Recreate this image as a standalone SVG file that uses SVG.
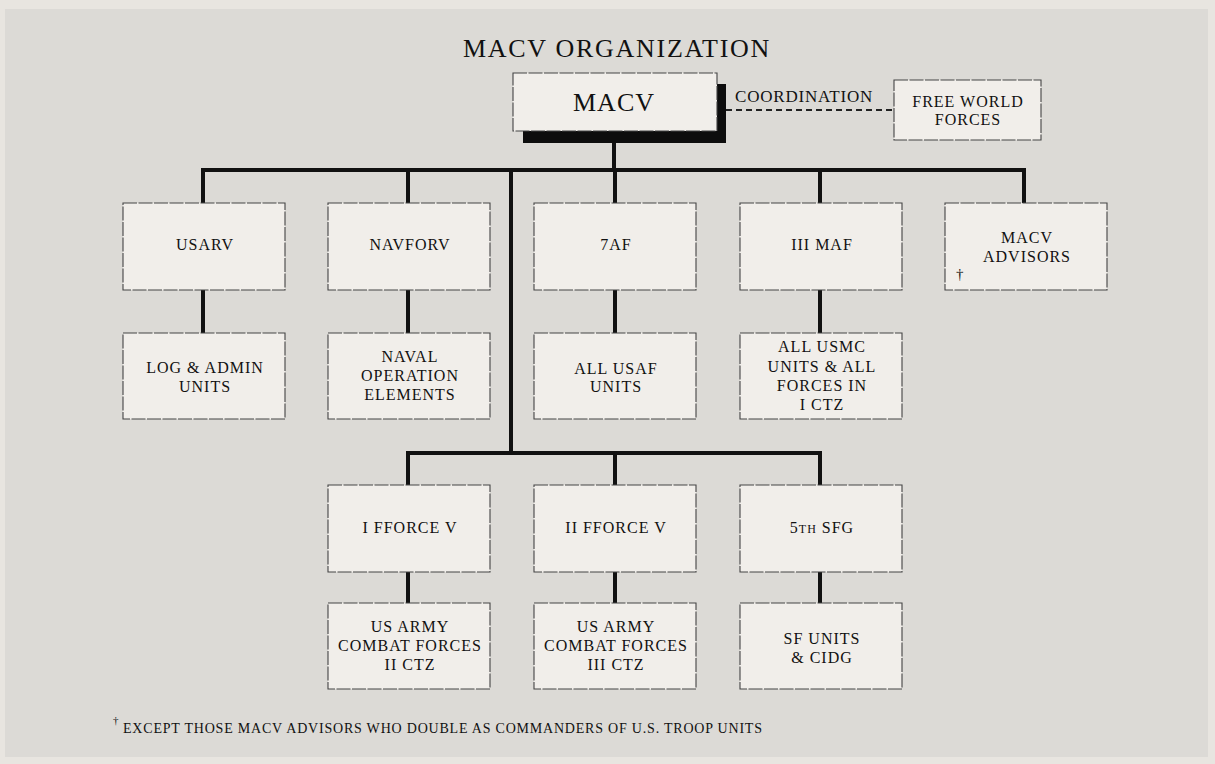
<svg xmlns="http://www.w3.org/2000/svg" width="1215" height="764" viewBox="0 0 1215 764">
<defs>
<style>
.bg{fill:#e8e5e0}
.panel{fill:#dcdad6}
.box{fill:#f1eeea;stroke:#444;stroke-width:1.1;stroke-dasharray:14 1.5}
.t{font-family:"Liberation Serif","Times New Roman",serif;font-size:16px;letter-spacing:1px;fill:#111;text-anchor:middle}
.ln{stroke:#111;stroke-width:4;fill:none;stroke-linecap:square}
.dash{stroke:#222;stroke-width:2;stroke-dasharray:6 4;fill:none}
</style>
</defs>
<rect class="bg" x="0" y="0" width="1215" height="764"/>
<rect class="panel" x="5" y="9" width="1203" height="748"/>
<text x="617" y="57" font-family="Liberation Serif, serif" font-size="26" letter-spacing="1.7" fill="#111" text-anchor="middle">MACV ORGANIZATION</text>

<g id="connectors">
<line class="ln" x1="614" y1="143" x2="614" y2="170"/>
<line class="ln" x1="203" y1="170" x2="1024" y2="170"/>
<line class="ln" x1="203" y1="170" x2="203" y2="203"/>
<line class="ln" x1="408" y1="170" x2="408" y2="203"/>
<line class="ln" x1="615" y1="170" x2="615" y2="203"/>
<line class="ln" x1="820" y1="170" x2="820" y2="203"/>
<line class="ln" x1="1024" y1="170" x2="1024" y2="203"/>
<line class="ln" x1="203" y1="290" x2="203" y2="333"/>
<line class="ln" x1="408" y1="290" x2="408" y2="333"/>
<line class="ln" x1="615" y1="290" x2="615" y2="333"/>
<line class="ln" x1="820" y1="290" x2="820" y2="333"/>
<line class="ln" x1="511" y1="170" x2="511" y2="453"/>
<line class="ln" x1="408" y1="453" x2="820" y2="453"/>
<line class="ln" x1="408" y1="453" x2="408" y2="485"/>
<line class="ln" x1="615" y1="453" x2="615" y2="485"/>
<line class="ln" x1="820" y1="453" x2="820" y2="485"/>
<line class="ln" x1="408" y1="572" x2="408" y2="603"/>
<line class="ln" x1="615" y1="572" x2="615" y2="603"/>
<line class="ln" x1="820" y1="572" x2="820" y2="603"/>
<line class="dash" x1="726" y1="110" x2="894" y2="110"/>
<text x="735" y="102" font-family="Liberation Serif, serif" font-size="17" letter-spacing="0.8" fill="#111">COORDINATION</text>
</g>

<g id="macv">
<rect x="523" y="84" width="203" height="59" fill="#0d0d0d"/>
<rect class="box" x="513" y="73" width="204" height="58"/>
<text x="614" y="111" font-family="Liberation Serif, serif" font-size="26" letter-spacing="1" fill="#111" text-anchor="middle">MACV</text>
</g>

<g id="freeworld">
<rect class="box" x="894" y="80" width="147" height="60"/>
<text class="t" x="968" y="107">FREE WORLD</text>
<text class="t" x="968" y="125">FORCES</text>
</g>

<g id="usarv">
<rect class="box" x="123" y="203" width="162" height="87"/>
<text class="t" x="205" y="250">USARV</text>
</g>
<g id="navforv">
<rect class="box" x="328" y="203" width="162" height="87"/>
<text class="t" x="410" y="250">NAVFORV</text>
</g>
<g id="af7">
<rect class="box" x="534" y="203" width="162" height="87"/>
<text class="t" x="616" y="250">7AF</text>
</g>
<g id="maf3">
<rect class="box" x="740" y="203" width="162" height="87"/>
<text class="t" x="822" y="250">III MAF</text>
</g>
<g id="macvadvisors">
<rect class="box" x="945" y="203" width="162" height="87"/>
<text class="t" x="1027" y="243">MACV</text>
<text class="t" x="1027" y="262">ADVISORS</text>
<text x="956" y="279" font-family="Liberation Serif, serif" font-size="15" fill="#111">†</text>
</g>

<g id="logadmin">
<rect class="box" x="123" y="333" width="162" height="86"/>
<text class="t" x="205" y="373">LOG &amp; ADMIN</text>
<text class="t" x="205" y="392">UNITS</text>
</g>
<g id="naval">
<rect class="box" x="328" y="333" width="162" height="86"/>
<text class="t" x="410" y="362">NAVAL</text>
<text class="t" x="410" y="381">OPERATION</text>
<text class="t" x="410" y="400">ELEMENTS</text>
</g>
<g id="usaf">
<rect class="box" x="534" y="333" width="162" height="86"/>
<text class="t" x="616" y="374">ALL USAF</text>
<text class="t" x="616" y="392">UNITS</text>
</g>
<g id="usmc">
<rect class="box" x="740" y="333" width="162" height="86"/>
<text class="t" x="822" y="352">ALL USMC</text>
<text class="t" x="822" y="372">UNITS &amp; ALL</text>
<text class="t" x="822" y="391">FORCES IN</text>
<text class="t" x="822" y="410">I CTZ</text>
</g>

<g id="iffv">
<rect class="box" x="328" y="485" width="162" height="87"/>
<text class="t" x="410" y="533">I FFORCE V</text>
</g>
<g id="iiffv">
<rect class="box" x="534" y="485" width="162" height="87"/>
<text class="t" x="616" y="533">II FFORCE V</text>
</g>
<g id="sfg5">
<rect class="box" x="740" y="485" width="162" height="87"/>
<text class="t" x="822" y="533">5<tspan font-size="12">TH</tspan> SFG</text>
</g>

<g id="ctz2">
<rect class="box" x="328" y="603" width="162" height="86"/>
<text class="t" x="410" y="632">US ARMY</text>
<text class="t" x="410" y="651">COMBAT FORCES</text>
<text class="t" x="410" y="670">II CTZ</text>
</g>
<g id="ctz3">
<rect class="box" x="534" y="603" width="162" height="86"/>
<text class="t" x="616" y="632">US ARMY</text>
<text class="t" x="616" y="651">COMBAT FORCES</text>
<text class="t" x="616" y="670">III CTZ</text>
</g>
<g id="sfunits">
<rect class="box" x="740" y="603" width="162" height="86"/>
<text class="t" x="822" y="644">SF UNITS</text>
<text class="t" x="822" y="663">&amp; CIDG</text>
</g>

<g id="footnote">
<text x="113" y="724" font-family="Liberation Serif, serif" font-size="11" fill="#111">†</text>
<text x="123" y="733" font-family="Liberation Serif, serif" font-size="14" fill="#111" textLength="639" lengthAdjust="spacing">EXCEPT THOSE MACV ADVISORS WHO DOUBLE AS COMMANDERS OF U.S. TROOP UNITS</text>
</g>
</svg>
